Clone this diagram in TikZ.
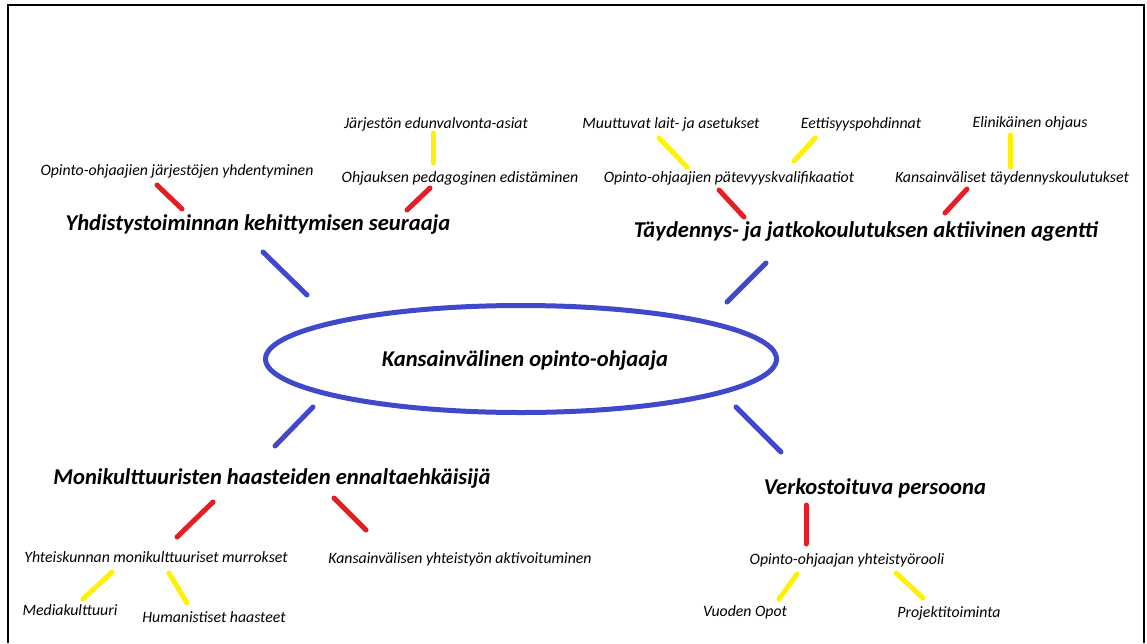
\documentclass[tikz,border=0pt]{standalone}
\usepackage{fontspec}
\setmainfont{Carlito}
\usetikzlibrary{shapes.geometric}
\definecolor{myblue}{RGB}{64,72,204}
\definecolor{myred}{RGB}{232,28,36}
\definecolor{myyellow}{RGB}{255,242,0}
\begin{document}
\begin{tikzpicture}[x=1pt,y=-1pt,
  big/.style={font=\fontsize{22.6}{26}\selectfont\bfseries\itshape, inner sep=0pt, anchor=mid},
  small/.style={font=\fontsize{15.8}{18}\selectfont\itshape, inner sep=0pt, anchor=mid},
  bline/.style={draw=myblue, line width=5pt, line cap=round},
  rline/.style={draw=myred, line width=5pt, line cap=round},
  yline/.style={draw=myyellow, line width=5pt, line cap=round},
  frame/.style={draw=black, line width=2pt}]
\useasboundingbox (0,0) rectangle (1147,643);
% frame
\coordinate (f1) at (8,643);
\coordinate (f2) at (8,5);
\coordinate (f3) at (1144,5);
\coordinate (f4) at (1144,643);
\draw[frame] (f1) -- (f2) -- (f3) -- (f4);
% centre
\node (core) [ellipse, draw=myblue, line width=5pt, minimum width=511pt, minimum height=107pt, inner sep=0pt] at (521,359) {};
\node (coretext) [big] at (525,364) {Kansainvälinen opinto-ohjaaja};
% headings
\node (h1) [big] at (258,228) {Yhdistystoiminnan kehittymisen seuraaja};
\node (h2) [big] at (866,235) {Täydennys- ja jatkokoulutuksen aktiivinen agentti};
\node (h3) [big] at (272,482) {Monikulttuuristen haasteiden ennaltaehkäisijä};
\node (h4) [big] at (875,492) {Verkostoituva persoona};
% small labels
\node (s1) [small] at (177,173) {Opinto-ohjaajien järjestöjen yhdentyminen};
\node (s2) [small] at (436,126) {Järjestön edunvalvonta-asiat};
\node (s3) [small] at (460,180) {Ohjauksen pedagoginen edistäminen};
\node (s4) [small] at (671,126) {Muuttuvat lait- ja asetukset};
\node (s5) [small] at (861,126) {Eettisyyspohdinnat};
\node (s6) [small] at (1030,125) {Elinikäinen ohjaus};
\node (s7) [small] at (729,180) {Opinto-ohjaajien pätevyyskvalifikaatiot};
\node (s8) [small] at (1012,180) {Kansainväliset täydennyskoulutukset};
\node (s9) [small] at (156,560) {Yhteiskunnan monikulttuuriset murrokset};
\node (s10) [small] at (460,561) {Kansainvälisen yhteistyön aktivoituminen};
\node (s11) [small] at (70,613) {Mediakulttuuri};
\node (s12) [small] at (214,620) {Humanistiset haasteet};
\node (s13) [small] at (847,562) {Opinto-ohjaajan yhteistyörooli};
\node (s14) [small] at (745,614) {Vuoden Opot};
\node (s15) [small] at (949,615) {Projektitoiminta};
% connector end points
\coordinate (b1a) at (263,252); \coordinate (b1b) at (307,295);
\coordinate (b2a) at (766,263); \coordinate (b2b) at (727,302);
\coordinate (b3a) at (313,407); \coordinate (b3b) at (275,446);
\coordinate (b4a) at (736,407); \coordinate (b4b) at (781,452);
\coordinate (r1a) at (157,185); \coordinate (r1b) at (182,209);
\coordinate (r2a) at (430,188); \coordinate (r2b) at (407,210);
\coordinate (r3a) at (719,190); \coordinate (r3b) at (744,217);
\coordinate (r4a) at (967,189); \coordinate (r4b) at (945,213);
\coordinate (r5a) at (213,502); \coordinate (r5b) at (177,537);
\coordinate (r6a) at (334,498); \coordinate (r6b) at (366,530);
\coordinate (r7a) at (806,505); \coordinate (r7b) at (806,544);
\coordinate (y1a) at (433,133); \coordinate (y1b) at (433,163);
\coordinate (y2a) at (659,138); \coordinate (y2b) at (687,167);
\coordinate (y3a) at (815,138); \coordinate (y3b) at (794,161);
\coordinate (y4a) at (1010,135); \coordinate (y4b) at (1010,167);
\coordinate (y5a) at (112,572); \coordinate (y5b) at (83,599);
\coordinate (y6a) at (169,573); \coordinate (y6b) at (187,603);
\coordinate (y7a) at (797,574); \coordinate (y7b) at (779,599);
\coordinate (y8a) at (896,573); \coordinate (y8b) at (923,598);
% connectors
\foreach \c in {b1,b2,b3,b4} \draw[bline] (\c a) -- (\c b);
\foreach \c in {r1,r2,r3,r4,r5,r6,r7} \draw[rline] (\c a) -- (\c b);
\foreach \c in {y1,y2,y3,y4,y5,y6,y7,y8} \draw[yline] (\c a) -- (\c b);
\end{tikzpicture}
\end{document}
